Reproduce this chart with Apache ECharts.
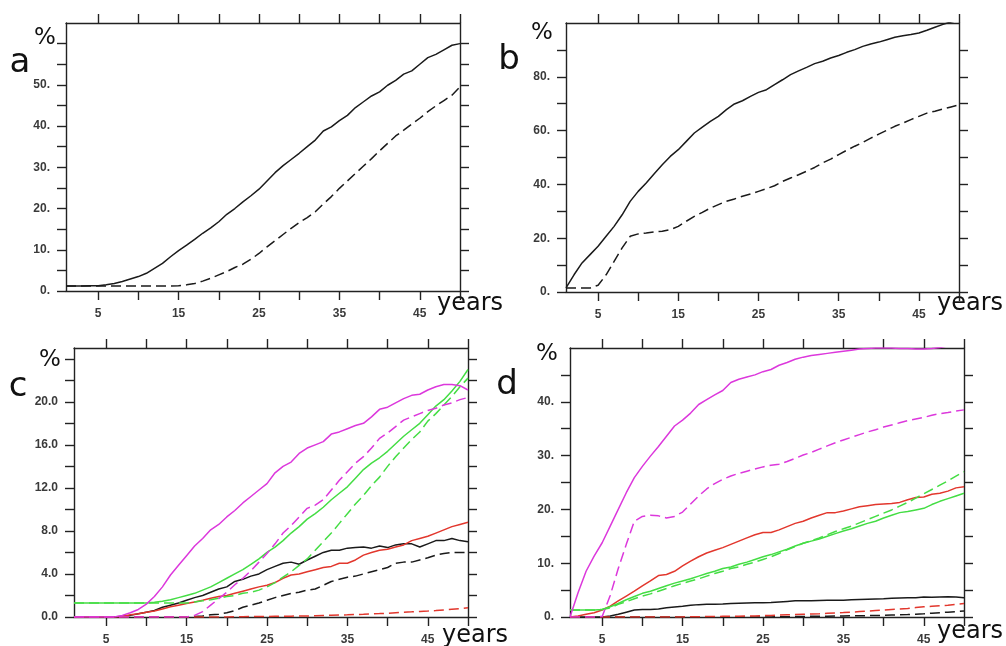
<!DOCTYPE html>
<html>
<head>
<meta charset="utf-8">
<script src="https://cdn.jsdelivr.net/npm/echarts@6/dist/echarts.min.js"></script>
<style>
  html, body { margin: 0; padding: 0; background: #fff; }
  #main { width: 1006px; height: 646px; }
</style>
</head>
<body>
<div id="main"></div>
<script>
// Simulation years shared by all four panels
const years = [1,2,3,4,5,6,7,8,9,10,11,12,13,14,15,16,17,18,19,20,21,22,23,24,25,
  26,27,28,29,30,31,32,33,34,35,36,37,38,39,40,41,42,43,44,45,46,47,48,49,50];

// Tick marks and tick labels
const xTicks = [5,10,15,20,25,30,35,40,45,50];
const xLabels = [5,15,25,35,45];
const aTicks = [0,5,10,15,20,25,30,35,40,45,50,55,60];
const aLabels = [0,10,20,30,40,50];
const bTicks = [0,10,20,30,40,50,60,70,80,90];
const bLabels = [0,20,40,60,80];
const cTicks = [0,2,4,6,8,10,12,14,16,18,20,22,24];
const cLabels = [0,4,8,12,16,20];
const dTicks = [0,5,10,15,20,25,30,35,40,45];
const dLabels = [0,10,20,30,40];

// Panel a (%)
const aSolid = [1.2,1.2,1.2,1.25,1.3,1.5,1.8,2.3,2.9,3.5,4.3,5.5,6.7,8.3,9.8,11.1,12.5,14.0,15.3,16.8,
  18.6,20.0,21.6,23.1,24.7,26.7,28.7,30.4,31.9,33.4,35.0,36.6,38.8,39.8,41.3,42.6,44.5,45.9,47.3,48.3,
  49.9,51.1,52.6,53.4,55.0,56.6,57.4,58.5,59.6,60.0];
const aDashed = [1.2,1.2,1.2,1.2,1.2,1.2,1.2,1.2,1.2,1.2,1.2,1.2,1.2,1.2,1.3,1.5,1.8,2.4,3.1,3.9,
  4.7,5.7,6.5,7.7,9.1,10.7,12.2,13.7,15.2,16.6,17.8,19.2,21.1,22.9,24.9,26.7,28.5,30.3,32.1,34.0,
  35.8,37.6,39.0,40.5,41.9,43.5,44.9,46.2,47.5,49.5];

// Panel b (%)
const bSolid = [1.5,6.4,10.8,13.9,17.0,20.7,24.4,28.7,33.7,37.4,40.5,44.0,47.3,50.4,52.9,56.0,59.1,61.3,63.4,65.3,
  67.8,69.9,71.1,72.7,74.2,75.2,77.1,78.9,80.8,82.2,83.5,84.9,85.8,87.0,87.9,89.1,90.1,91.3,92.2,92.9,
  93.8,94.7,95.3,95.7,96.3,97.3,98.4,99.5,100.4,101.0];
const bDashed = [1.5,1.5,1.5,1.5,2.5,6.4,11.4,16.4,20.7,21.6,21.9,22.3,22.6,23.2,24.4,26.3,28.1,29.6,31.2,32.5,
  33.7,34.6,35.6,36.4,37.4,38.4,39.5,41.1,42.4,43.6,44.9,46.3,48.0,49.4,51.1,52.7,54.2,55.6,57.2,58.7,
  60.1,61.6,62.8,64.1,65.3,66.5,67.2,68.0,68.8,69.6];

// Panel c (%)
const cBlackSolid = [0,0,0,0,0,0,0.06,0.15,0.3,0.45,0.6,0.9,1.1,1.3,1.55,1.8,2.0,2.3,2.6,2.8,
  3.3,3.5,3.8,4.0,4.4,4.7,5.0,5.1,4.9,5.3,5.65,6.0,6.2,6.2,6.4,6.45,6.5,6.4,6.6,6.45,
  6.7,6.8,6.8,6.5,6.8,7.1,7.1,7.3,7.1,7.0];
const cBlackDashed = [0,0,0,0,0,0,0,0,0,0,0,0,0,0,0,0.05,0.1,0.2,0.25,0.4,
  0.6,0.9,1.1,1.3,1.55,1.8,2.0,2.2,2.3,2.5,2.6,2.95,3.3,3.5,3.7,3.8,4.0,4.2,4.4,4.6,
  5.0,5.1,5.1,5.3,5.5,5.75,5.9,6.0,6.0,6.0];
const cRedSolid = [0,0,0,0,0,0,0.05,0.2,0.3,0.45,0.55,0.75,0.95,1.1,1.25,1.4,1.55,1.75,1.9,2.0,
  2.2,2.4,2.6,2.8,2.95,3.2,3.6,3.9,4.0,4.2,4.4,4.6,4.7,5.0,5.0,5.3,5.75,6.0,6.2,6.3,
  6.5,6.7,7.1,7.3,7.5,7.8,8.1,8.4,8.6,8.8];
const cRedDashed = [0,0,0,0,0,0,0,0,0,0,0,0,0,0,0,0,0,0,0,0,
  0.02,0.03,0.04,0.05,0.05,0.06,0.07,0.08,0.09,0.1,0.12,0.14,0.16,0.18,0.2,0.23,0.26,0.3,0.32,0.35,
  0.4,0.45,0.48,0.52,0.55,0.6,0.66,0.72,0.78,0.85];
const cGreenSolid = [1.3,1.3,1.3,1.3,1.3,1.3,1.3,1.3,1.3,1.3,1.37,1.46,1.6,1.8,2.0,2.2,2.5,2.8,3.2,3.6,
  4.0,4.4,4.9,5.4,6.0,6.5,7.1,7.8,8.4,9.1,9.6,10.2,10.9,11.5,12.1,12.9,13.7,14.3,14.8,15.4,
  16.1,16.8,17.4,18.0,18.8,19.6,20.2,21.0,21.9,23.0];
const cGreenDashed = [1.3,1.3,1.3,1.3,1.3,1.3,1.3,1.3,1.3,1.3,1.3,1.3,1.3,1.3,1.3,1.4,1.5,1.6,1.75,1.9,
  2.0,2.2,2.3,2.5,2.8,3.2,3.7,4.2,4.8,5.4,6.2,7.0,7.8,8.7,9.6,10.5,11.3,12.2,13.0,14.0,
  14.9,15.7,16.5,17.2,18.2,18.9,19.7,20.5,21.4,22.2];
const cMagentaSolid = [0,0,0,0,0,0,0.15,0.4,0.7,1.2,1.9,2.8,3.9,4.8,5.7,6.6,7.3,8.1,8.6,9.3,
  9.9,10.6,11.2,11.8,12.4,13.4,14.0,14.4,15.2,15.7,16.0,16.3,17.0,17.2,17.5,17.8,18.0,18.6,19.3,19.5,
  19.9,20.3,20.6,20.7,21.1,21.4,21.6,21.6,21.5,21.1];
const cMagentaDashed = [0,0,0,0,0,0,0,0,0,0,0,0,0,0,0,0.15,0.5,1.1,1.7,2.3,
  3.0,3.6,4.3,5.1,5.9,6.8,7.8,8.5,9.3,10.1,10.4,10.9,11.8,12.7,13.5,14.3,14.9,15.7,16.6,17.1,
  17.7,18.3,18.6,18.9,19.2,19.4,19.7,19.9,20.2,20.4];

// Panel d (%)
const dBlackSolid = [0,0,0,0,0,0.2,0.5,0.9,1.3,1.4,1.4,1.5,1.7,1.85,2.0,2.2,2.3,2.35,2.35,2.4,
  2.5,2.55,2.6,2.65,2.65,2.7,2.8,2.9,3.0,3.0,3.0,3.05,3.1,3.1,3.1,3.2,3.25,3.3,3.35,3.4,
  3.5,3.55,3.6,3.6,3.7,3.65,3.7,3.75,3.7,3.6];
const dBlackDashed = [0,0,0,0,0,0,0,0,0,0,0,0,0,0,0,0,0,0,0,0,
  0,0,0,0,0,0.02,0.04,0.06,0.08,0.1,0.12,0.14,0.16,0.18,0.2,0.22,0.24,0.26,0.28,0.3,
  0.35,0.4,0.45,0.52,0.6,0.7,0.8,0.9,1.0,1.1];
const dRedSolid = [0,0.2,0.5,0.8,1.3,2.0,3.0,3.9,4.8,5.8,6.7,7.7,7.9,8.5,9.5,10.4,11.2,11.9,12.4,12.9,
  13.5,14.1,14.7,15.3,15.7,15.7,16.2,16.8,17.4,17.8,18.4,18.9,19.4,19.4,19.7,20.1,20.5,20.7,20.9,21.0,
  21.1,21.3,21.8,22.2,22.3,22.8,23.0,23.4,24.0,24.2];
const dRedDashed = [0,0,0,0,0,0,0,0,0,0,0,0,0,0,0.02,0.04,0.06,0.08,0.1,0.12,
  0.14,0.16,0.18,0.2,0.25,0.3,0.35,0.4,0.45,0.5,0.55,0.6,0.68,0.75,0.82,0.9,1.0,1.1,1.2,1.3,
  1.4,1.5,1.6,1.75,1.9,2.0,2.1,2.2,2.35,2.5];
const dGreenSolid = [1.3,1.3,1.3,1.3,1.4,1.9,2.5,3.2,3.8,4.4,4.8,5.3,5.8,6.3,6.7,7.1,7.6,8.1,8.5,9.0,
  9.3,9.8,10.2,10.7,11.2,11.6,12.1,12.6,13.2,13.7,14.1,14.5,15.0,15.5,16.0,16.4,16.9,17.4,17.8,18.4,
  18.9,19.4,19.6,19.9,20.2,20.9,21.5,22.0,22.5,23.0];
const dGreenDashed = [1.3,1.3,1.3,1.3,1.4,1.7,2.35,2.85,3.4,3.9,4.3,4.8,5.3,5.8,6.25,6.7,7.1,7.6,8.1,8.5,
  9.0,9.3,9.8,10.2,10.7,11.2,11.8,12.5,13.1,13.7,14.2,14.7,15.3,15.9,16.4,16.9,17.5,18.1,18.7,19.3,
  19.9,20.6,21.3,22.1,22.9,23.7,24.5,25.3,26.2,27.0];
const dMagentaSolid = [0,4.5,8.5,11.3,13.8,16.9,20.0,23.1,25.9,28.0,29.9,31.7,33.6,35.5,36.6,37.9,39.5,40.4,41.3,42.1,
  43.6,44.2,44.6,45.0,45.6,46.0,46.8,47.3,47.9,48.3,48.6,48.8,49.0,49.2,49.4,49.6,49.8,49.9,50.0,50.0,
  50.0,49.9,49.9,49.8,49.8,49.9,50.1,50.4,50.6,50.8];
const dMagentaDashed = [0,0,0,0,0.1,4.0,9.0,13.5,17.8,18.7,18.9,18.8,18.4,18.7,19.5,21.0,22.5,23.8,24.8,25.6,
  26.2,26.7,27.1,27.5,27.9,28.2,28.4,28.9,29.5,30.1,30.6,31.2,31.8,32.4,32.9,33.4,33.9,34.4,34.8,35.3,
  35.7,36.1,36.5,36.8,37.1,37.5,37.8,38.0,38.3,38.5];

const BLACK = '#1a1a1a', RED = '#e2372d', GREEN = '#44dd44', MAGENTA = '#dc38dc';
const AXIS = '#222';
const LABEL_FONT = { fontFamily: 'Liberation Sans', fontSize: 12, fontWeight: 'bold', color: '#3a3a3a' };

const dotFmt = v => v + '.';
const decFmt = v => v.toFixed(1);

const panels = [
  { letter: 'a', grid: { left: 66, top: 23, width: 394, height: 268 }, yMax: 65,
    yTicks: aTicks, yLabels: aLabels, fmt: dotFmt,
    letterPos: [20, 63], pctPos: [45, 38], yearsPos: [437, 304],
    lines: [[aSolid, BLACK, false], [aDashed, BLACK, true]] },
  { letter: 'b', grid: { left: 566, top: 23, width: 393, height: 269 }, yMax: 100,
    yTicks: bTicks, yLabels: bLabels, fmt: dotFmt,
    letterPos: [509, 60], pctPos: [542, 33], yearsPos: [937, 304],
    lines: [[bSolid, BLACK, false], [bDashed, BLACK, true]] },
  { letter: 'c', grid: { left: 74, top: 348, width: 394, height: 269 }, yMax: 25,
    yTicks: cTicks, yLabels: cLabels, fmt: decFmt,
    letterPos: [18, 387], pctPos: [50, 360], yearsPos: [442, 636],
    lines: [[cBlackSolid, BLACK, false], [cBlackDashed, BLACK, true],
            [cRedSolid, RED, false], [cRedDashed, RED, true],
            [cGreenSolid, GREEN, false], [cGreenDashed, GREEN, true],
            [cMagentaSolid, MAGENTA, false], [cMagentaDashed, MAGENTA, true]] },
  { letter: 'd', grid: { left: 570, top: 348, width: 394, height: 270 }, yMax: 50,
    yTicks: dTicks, yLabels: dLabels, fmt: dotFmt,
    letterPos: [507, 385], pctPos: [547, 354], yearsPos: [937, 632],
    lines: [[dBlackSolid, BLACK, false], [dBlackDashed, BLACK, true],
            [dRedSolid, RED, false], [dRedDashed, RED, true],
            [dGreenSolid, GREEN, false], [dGreenDashed, GREEN, true],
            [dMagentaSolid, MAGENTA, false], [dMagentaDashed, MAGENTA, true]] }
];

const axisLine = { show: true, onZero: false, lineStyle: { color: AXIS, width: 1.4 } };
const tickStyle = { color: AXIS, width: 1.4 };

const grid = [], xAxis = [], yAxis = [], series = [], graphic = [];

panels.forEach((p, i) => {
  grid.push(Object.assign({ containLabel: false }, p.grid));

  // bottom axis with labels, top axis as a ticked frame edge
  ['bottom', 'top'].forEach(pos => {
    xAxis.push({
      gridIndex: i, type: 'value', min: 1, max: 50, position: pos,
      axisLine: axisLine,
      axisTick: { show: true, length: 9, customValues: xTicks, lineStyle: tickStyle },
      axisLabel: pos === 'bottom'
        ? Object.assign({ show: true, margin: 17, customValues: xLabels }, LABEL_FONT)
        : { show: false },
      splitLine: { show: false }
    });
  });

  // left axis with labels, right axis as a ticked frame edge
  ['left', 'right'].forEach(pos => {
    yAxis.push({
      gridIndex: i, type: 'value', min: 0, max: p.yMax, position: pos,
      axisLine: axisLine,
      axisTick: { show: true, length: 9, customValues: p.yTicks, lineStyle: tickStyle },
      axisLabel: pos === 'left'
        ? Object.assign({ show: true, margin: 16, customValues: p.yLabels, formatter: p.fmt }, LABEL_FONT)
        : { show: false },
      splitLine: { show: false }
    });
  });

  p.lines.forEach(([vals, color, dashed]) => {
    series.push({
      type: 'line',
      xAxisIndex: i * 2, yAxisIndex: i * 2,
      data: years.map((y, k) => [y, vals[k]]),
      showSymbol: false, symbol: 'none', clip: true,
      lineStyle: { color: color, width: 1.5, type: dashed ? [10, 5] : 'solid' },
      emphasis: { disabled: true }
    });
  });

  graphic.push(
    { type: 'text', x: p.letterPos[0], y: p.letterPos[1],
      style: { text: p.letter, font: '34px "DejaVu Sans"', fill: '#111', align: 'center', verticalAlign: 'middle' } },
    { type: 'text', x: p.pctPos[0], y: p.pctPos[1],
      style: { text: '%', font: '23px "DejaVu Sans"', fill: '#111', align: 'center', verticalAlign: 'middle' } },
    { type: 'text', x: p.yearsPos[0], y: p.yearsPos[1],
      style: { text: 'years', font: '24px "DejaVu Sans"', fill: '#111', align: 'left', verticalAlign: 'middle' } }
  );
});

const chart = echarts.init(document.getElementById('main'), null, { renderer: 'canvas' });
chart.setOption({
  animation: false,
  backgroundColor: '#fff',
  grid: grid,
  xAxis: xAxis,
  yAxis: yAxis,
  series: series,
  graphic: graphic
});
</script>
</body>
</html>
